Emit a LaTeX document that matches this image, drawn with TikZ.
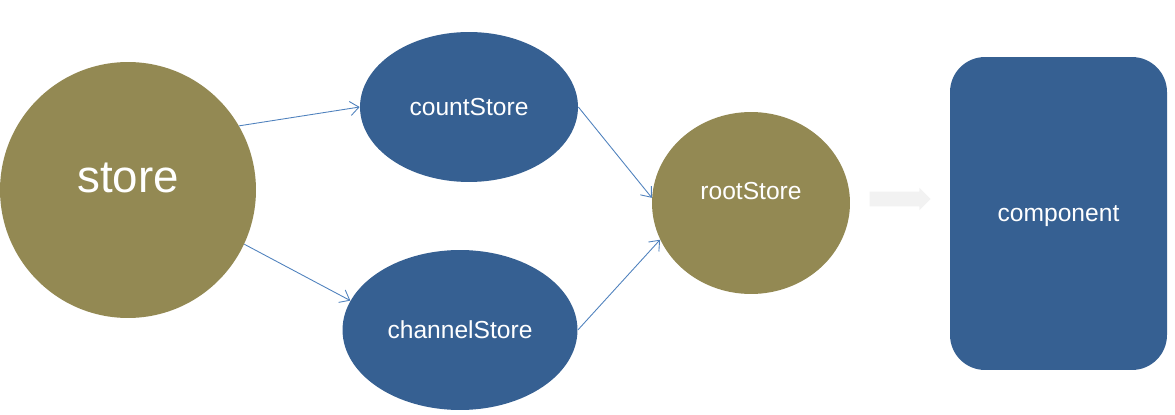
\documentclass[tikz,border=0pt]{standalone}
\usepackage{fontspec}
\setmainfont{Liberation Sans}
\usetikzlibrary{shapes.geometric,shapes.arrows,arrows.meta}
\definecolor{storeolive}{HTML}{938953}
\definecolor{storeblue}{HTML}{366092}
\definecolor{linkblue}{HTML}{4F81BD}
\definecolor{hintgrey}{HTML}{F2F2F2}

\begin{document}
\begin{tikzpicture}[x=0.02cm,y=-0.02cm,
    olivestore/.style={ellipse,fill=storeolive,text=white,inner sep=0pt},
    bluestore/.style={ellipse,fill=storeblue,text=white,inner sep=0pt,
      font=\fontsize{14}{16}\selectfont},
    link/.style={draw=linkblue,line width=0.5pt,-{Straight Barb[length=5pt,width=8pt]}}]
\useasboundingbox (0,0) rectangle (1175,415);

\node[olivestore,minimum width=5.12cm,minimum height=5.12cm,
      font=\fontsize{26}{30}\selectfont] (store) at (128,190) {\raisebox{14.5pt}{store}};
\node[bluestore,minimum width=4.36cm,minimum height=3cm] (count) at (469,107) {countStore};
\node[bluestore,minimum width=4.7cm,minimum height=3.2cm] (channel) at (460,330) {\raisebox{-1pt}{channelStore}};
\node[olivestore,minimum width=3.96cm,minimum height=3.64cm,
      font=\fontsize{14}{16}\selectfont] (root) at (751,203) {\raisebox{14pt}{rootStore}};
\node[single arrow,fill=hintgrey,inner sep=0.14cm,minimum height=1.22cm,
      single arrow head extend=0.08cm] (hint) at (896.5,199) {};
\node[rectangle,rounded corners=0.7cm,fill=storeblue,text=white,
      minimum width=4.34cm,minimum height=6.26cm,
      font=\fontsize{14}{16}\selectfont] (component) at (1058.5,213.5) {\raisebox{-4.5pt}[0pt][0pt]{component}};

\draw[link] (store.30) -- (count.west);
\draw[link] (store.-25) -- (channel.165);
\draw[link] (count.east) -- (root.177);
\draw[link] (channel.east) -- (root.202);
\end{tikzpicture}
\end{document}
